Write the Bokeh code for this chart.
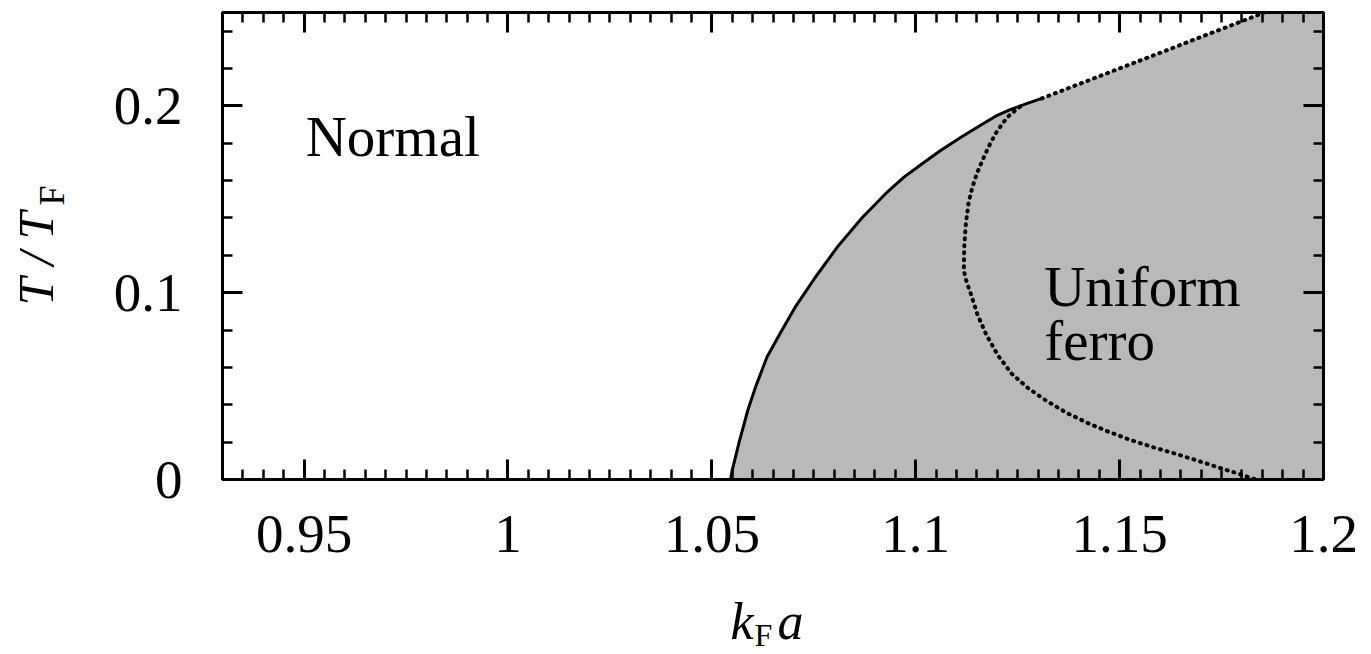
from bokeh.plotting import figure
from bokeh.models import FixedTicker, LinearAxis, Label, Range1d
from bokeh.layouts import row, column
from bokeh.core.properties import value
from bokeh.embed import file_html
from bokeh.resources import INLINE
import numpy as np

# ---- axis ticks / labels ----
x_ticks = [0.95, 1.0, 1.05, 1.1, 1.15, 1.2]
x_tick_labels = ["0.95", "1", "1.05", "1.1", "1.15", "1.2"]
y_ticks = [0.0, 0.1, 0.2]
y_tick_labels = ["0", "0.1", "0.2"]

# ---- data ----
# solid transition line (normal -> uniform ferro)
solid_x = [1.0546, 1.0550, 1.0556, 1.0567, 1.0588, 1.0608, 1.0635, 1.0667, 1.0704, 1.0753, 1.0809,
           1.0868, 1.0930, 1.0972, 1.1014, 1.1060, 1.1109, 1.1162, 1.1196, 1.1230, 1.1272, 1.1309]
solid_y = [0.0000, 0.0050, 0.0102, 0.0200, 0.0369, 0.0500, 0.0654, 0.0780, 0.0921, 0.1080, 0.1248,
           0.1400, 0.1539, 0.1620, 0.1688, 0.1760, 0.1829, 0.1900, 0.1945, 0.1979, 0.2012, 0.2040]
# dotted continuation of the boundary (upper)
outer_x = [1.1309, 1.1529, 1.1855]
outer_y = [0.2040, 0.2225, 0.2500]
# dotted inner curve
inner_x = [1.1256, 1.1232, 1.1214, 1.1197, 1.1183, 1.1166, 1.1151, 1.1139, 1.1130, 1.1123, 1.1119,
           1.1118, 1.1125, 1.1135, 1.1151, 1.1172, 1.1200, 1.1235, 1.1275, 1.1320, 1.1370, 1.1425,
           1.1477, 1.1530, 1.1583, 1.1635, 1.1688, 1.1740, 1.1790, 1.1834]
inner_y = [0.1996, 0.1955, 0.1910, 0.1855, 0.1800, 0.1720, 0.1644, 0.1565, 0.1487, 0.1370, 0.1248,
           0.1118, 0.1055, 0.0995, 0.0885, 0.0780, 0.0670, 0.0567, 0.0490, 0.0422, 0.0357, 0.0299,
           0.0252, 0.0209, 0.0172, 0.0139, 0.0103, 0.0066, 0.0032, 0.0000]

X0, X1 = 0.93, 1.2
Y0, Y1 = 0.0, 0.25

FONT = "Liberation Serif"

TOTAL_W, TOTAL_H = 1371, 654
LEFT_W = 80            # strip holding the y-axis title
MAIN_W = TOTAL_W - LEFT_W
MAIN_H = 585
BOT_H = TOTAL_H - MAIN_H  # strip holding the x-axis title
FRAME_TOP, FRAME_BOTTOM = 12, 479

p = figure(width=MAIN_W, height=MAIN_H,
           x_range=Range1d(X0, X1), y_range=Range1d(Y0, Y1),
           x_axis_location=None, y_axis_location=None,
           output_backend="svg", toolbar_location=None,
           min_border_left=222 - LEFT_W, min_border_right=48,
           min_border_top=FRAME_TOP, min_border_bottom=MAIN_H - FRAME_BOTTOM)
p.xgrid.visible = False
p.ygrid.visible = False
p.outline_line_color = "black"
p.outline_line_width = 3
p.background_fill_color = "white"
p.border_fill_color = "white"

# shaded region
patch_x = solid_x + outer_x + [X1, X1]
patch_y = solid_y + outer_y + [Y1, Y0]
p.patch(patch_x, patch_y, fill_color="#b9b9b9", line_color=None)

p.line(solid_x, solid_y, line_color="black", line_width=3)
p.line(outer_x, outer_y, line_color="black", line_width=4, line_dash="1 6", line_cap="round")
p.line(inner_x, inner_y, line_color="black", line_width=4, line_dash="1 6", line_cap="round")

x_minor = [round(v, 4) for v in np.arange(X0, X1 + 1e-9, 0.005)]
y_minor = [round(v, 4) for v in np.arange(Y0, Y1 + 1e-9, 0.02)]


def style(ax):
    ax.axis_line_width = 3
    ax.axis_line_color = "black"
    ax.major_tick_in = 20
    ax.major_tick_out = 0
    ax.minor_tick_in = 10
    ax.minor_tick_out = 0
    ax.major_tick_line_width = 3
    ax.minor_tick_line_width = 2.5
    ax.major_tick_line_color = "black"
    ax.minor_tick_line_color = "black"
    ax.major_label_text_font = FONT
    ax.major_label_text_font_size = "55px"
    ax.major_label_text_color = "black"


xb = LinearAxis(ticker=FixedTicker(ticks=x_ticks, minor_ticks=x_minor))
style(xb)
xb.major_label_overrides = {t: l for t, l in zip(x_ticks, x_tick_labels)}
xb.major_label_standoff = 36
p.add_layout(xb, "below")

xt = LinearAxis(ticker=FixedTicker(ticks=x_ticks, minor_ticks=x_minor))
style(xt)
xt.major_label_overrides = {t: "" for t in x_ticks}
xt.major_label_text_font_size = "1px"
xt.major_label_standoff = 0
p.add_layout(xt, "above")

yl = LinearAxis(ticker=FixedTicker(ticks=y_ticks, minor_ticks=y_minor))
style(yl)
yl.major_label_overrides = {t: l for t, l in zip(y_ticks, y_tick_labels)}
yl.major_label_standoff = 40
p.add_layout(yl, "left")

yr = LinearAxis(ticker=FixedTicker(ticks=y_ticks, minor_ticks=y_minor))
style(yr)
yr.major_label_overrides = {t: "" for t in y_ticks}
yr.major_label_text_font_size = "1px"
yr.major_label_standoff = 0
p.add_layout(yr, "right")

# region labels
for txt, lx, ly in [("Normal", 0.9504, 0.1834), ("Uniform", 1.1315, 0.1032), ("ferro", 1.1315, 0.0743)]:
    p.add_layout(Label(x=lx, y=ly, text=txt, text_font=FONT, text_font_size="57px",
                       text_align="left", text_baseline="alphabetic", text_color="black"))


def strip(w, h, y_top=0, y_bottom=None):
    if y_bottom is None:
        y_bottom = h
    f = figure(width=w, height=h, x_range=Range1d(0, w), y_range=Range1d(y_bottom, y_top),
               x_axis_location=None, y_axis_location=None,
               output_backend="svg", toolbar_location=None,
               min_border=0, min_border_left=0, min_border_right=0,
               min_border_top=0, min_border_bottom=0)
    f.xgrid.visible = False
    f.ygrid.visible = False
    f.outline_line_color = None
    f.background_fill_color = "white"
    f.border_fill_color = "white"
    return f


def piece(f, txt, px, py, size, italic, angle=0.0, align="left", baseline="alphabetic"):
    f.text(x=[px], y=[py], text=[txt], angle=angle,
           text_font=value(FONT), text_font_size=value(size),
           text_font_style="italic" if italic else "normal",
           text_align=align, text_baseline=baseline, text_color="black")


# y-axis title  T/T_F  (rotated, reads bottom to top).
# In a row the strip's frame is aligned with the main frame, so its y range is
# expressed in page pixels of that frame (top 12 .. bottom 479).
left = strip(LEFT_W, MAIN_H, FRAME_TOP, FRAME_BOTTOM)
piece(left, "T", 35, 291, "50px", True, np.pi / 2, "center", "middle")
piece(left, "/", 35, 258, "50px", True, np.pi / 2, "center", "middle")
piece(left, "T", 35, 225, "50px", True, np.pi / 2, "center", "middle")
piece(left, "F", 51, 195, "36px", False, np.pi / 2, "center", "middle")

# x-axis title  k_F a  (strip spans the full width, starts at y = MAIN_H)
bottom = strip(TOTAL_W, BOT_H)
piece(bottom, "k", 730, 620.8 - MAIN_H, "52px", True)
piece(bottom, "F", 754, 634 - MAIN_H, "32px", False)
piece(bottom, "a", 777, 620.8 - MAIN_H, "52px", True)

layout = column(row(left, p), bottom)
open("out.html", "w").write(file_html(layout, INLINE))
